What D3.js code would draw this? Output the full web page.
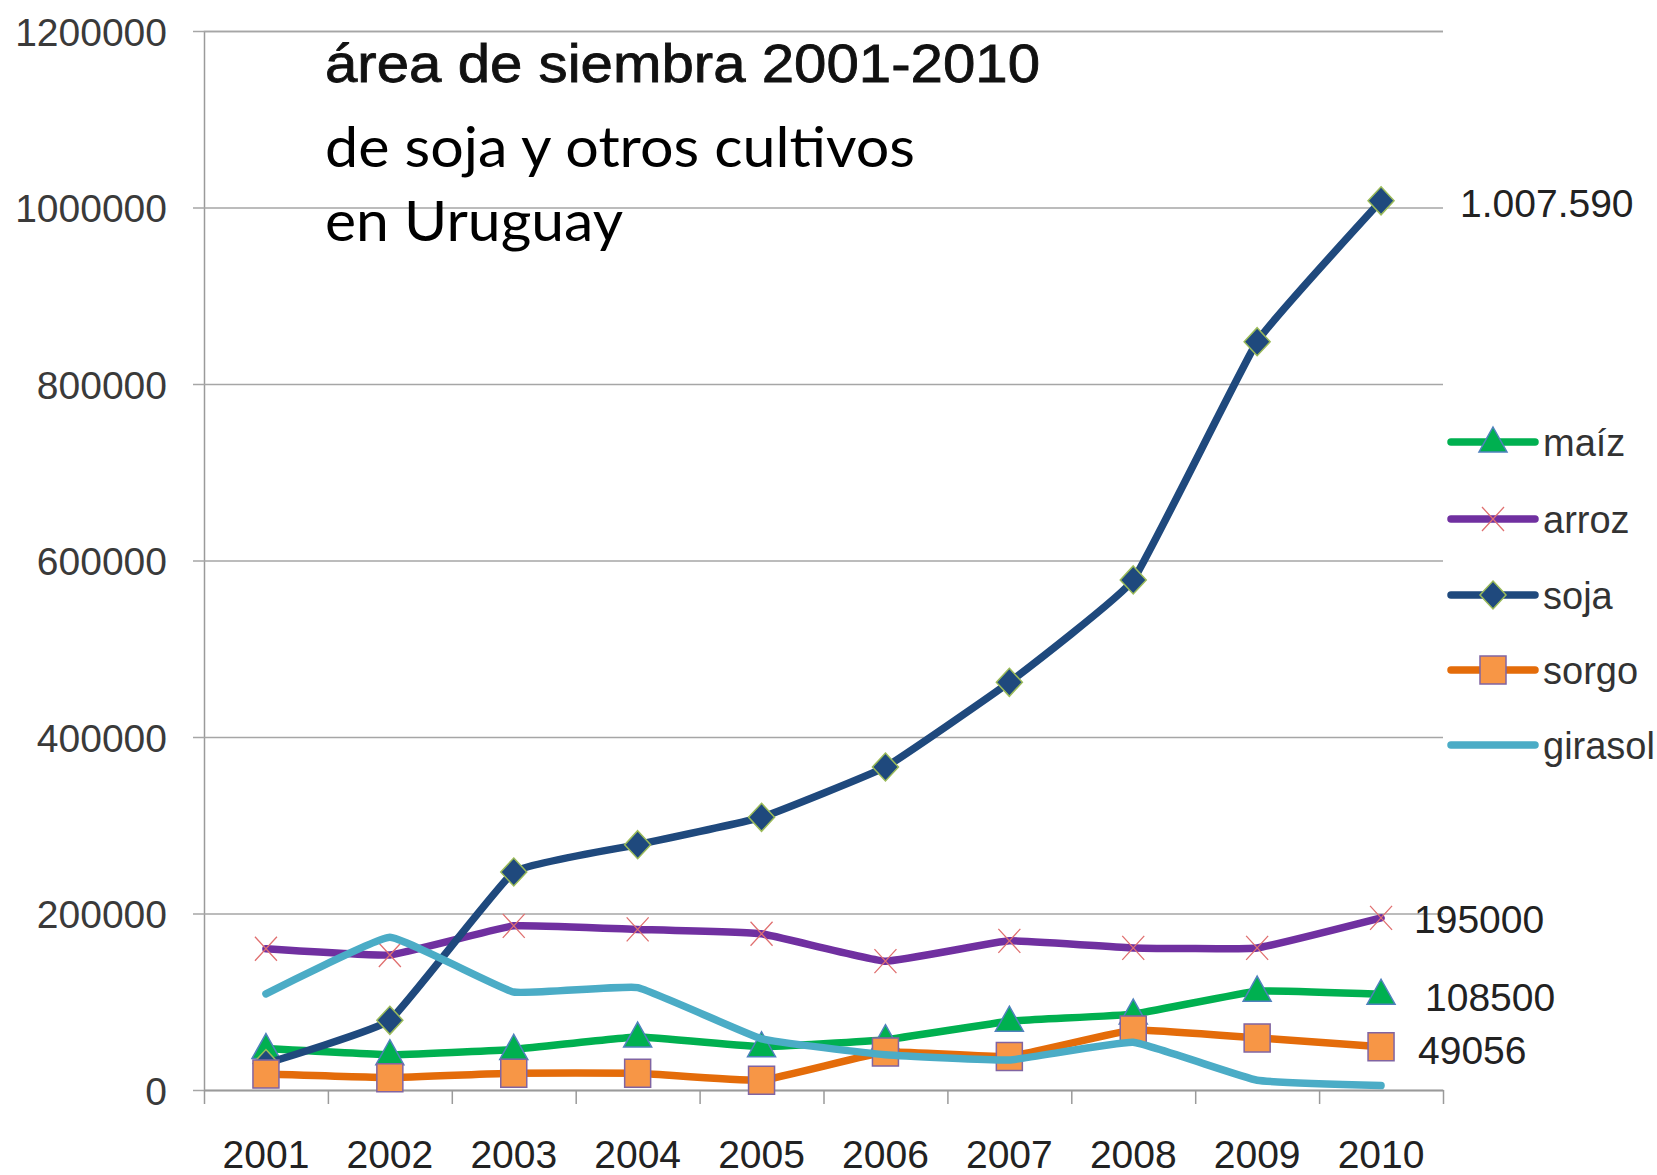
<!DOCTYPE html>
<html>
<head>
<meta charset="utf-8">
<script src="https://cdn.jsdelivr.net/npm/d3@7"></script>
<style>
  body { margin: 0; background: #fff; }
  svg { display: block; }
</style>
</head>
<body>
<div id="chart"></div>
<script>
// Data (hectares sown)
const years = ["2001", "2002", "2003", "2004", "2005", "2006", "2007", "2008", "2009", "2010"];
const maiz = [47000, 40000, 46000, 60000, 49000, 57000, 78000, 86000, 112000, 108500];
const arroz = [160000, 153000, 186000, 182000, 177000, 146000, 169000, 161000, 161000, 195000];
const soja = [30000, 79000, 247000, 278000, 309000, 366000, 462000, 578000, 848000, 1007590];
const sorgo = [18000, 14000, 19000, 19000, 11000, 43000, 38000, 68000, 59000, 49056];
const girasol = [109000, 173000, 111000, 116000, 58000, 40000, 34000, 54000, 11000, 5000];
const yTicks = [0, 200000, 400000, 600000, 800000, 1000000, 1200000];
const endLabels = [
  { serie: "soja", text: "1.007.590", dx: 79, dy: 2 },
  { serie: "arroz", text: "195000", dx: 33, dy: 1 },
  { serie: "maiz", text: "108500", dx: 44, dy: 3 },
  { serie: "sorgo", text: "49056", dx: 37, dy: 3 }
];

const series = [
  { key: "maiz", name: "maíz", values: maiz, color: "#00b050", marker: "triangle", fill: "#00b050", stroke: "#4f81bd" },
  { key: "arroz", name: "arroz", values: arroz, color: "#7030a0", marker: "x", fill: "none", stroke: "#e07070" },
  { key: "soja", name: "soja", values: soja, color: "#1f497d", marker: "diamond", fill: "#1f497d", stroke: "#9bbb59" },
  { key: "sorgo", name: "sorgo", values: sorgo, color: "#e46c0a", marker: "square", fill: "#f79646", stroke: "#8064a2" },
  { key: "girasol", name: "girasol", values: girasol, color: "#4bacc6", marker: null }
];

const width = 1657, height = 1175;
const plotLeft = 204, plotRight = 1443, plotTop = 31, plotBottom = 1090;
const labelFont = "'Liberation Sans', Arial, sans-serif";

const svg = d3.select("#chart").append("svg")
  .attr("width", width)
  .attr("height", height);

svg.append("rect").attr("width", width).attr("height", height).attr("fill", "#fff");

const x = d3.scaleBand().domain(years).range([plotLeft, plotRight]);
const xEdges = d3.scaleLinear().domain([0, years.length]).range([plotLeft, plotRight]);
const y = d3.scaleLinear().domain([0, 1200000]).range([plotBottom, plotTop]);
const cx = d => x(d) + x.bandwidth() / 2;

// horizontal gridlines + y labels
const yAxis = svg.append("g")
  .attr("transform", `translate(${plotLeft},0)`)
  .call(d3.axisLeft(y).tickValues(yTicks).tickSize(-(plotRight - plotLeft)).tickFormat(d3.format("d")));
yAxis.select(".domain").attr("stroke", "#9a9a9a").attr("stroke-width", 1.5);
yAxis.selectAll(".tick line").attr("x1", -11).attr("stroke", "#a6a6a6").attr("stroke-width", 1.5);
yAxis.selectAll(".tick text")
  .attr("x", -37)
  .attr("dy", "0.36em")
  .style("font-family", labelFont)
  .style("font-size", "39px")
  .attr("fill", "#3a3a3a");

// x axis: ticks at category edges, labels at centres
const xTicks = svg.append("g")
  .attr("transform", `translate(0,${plotBottom})`)
  .call(d3.axisBottom(xEdges).tickValues(d3.range(years.length + 1)).tickSize(14).tickFormat(""));
xTicks.select(".domain").remove();
xTicks.selectAll(".tick line").attr("stroke", "#9a9a9a").attr("stroke-width", 1.5);

const xAxis = svg.append("g")
  .attr("transform", `translate(0,${plotBottom})`)
  .call(d3.axisBottom(x).tickSize(0).tickPadding(0));
xAxis.select(".domain").attr("stroke", "#9a9a9a").attr("stroke-width", 1.5);
xAxis.selectAll(".tick text")
  .attr("y", 78)
  .attr("dy", 0)
  .style("font-family", labelFont)
  .style("font-size", "39px")
  .attr("fill", "#222");

// marker shapes
function markerPath(type) {
  if (type === "triangle") return "M0,-15L14,10L-14,10Z";
  if (type === "diamond") return "M0,-14L13,0L0,14L-13,0Z";
  if (type === "square") return "M-13,-14H13V14H-13Z";
  if (type === "x") return "M-11,-12L11,12M-11,12L11,-12";
  return "";
}

const line = d3.line()
  .x((d, i) => cx(years[i]))
  .y(d => y(d))
  .curve(d3.curveCardinal.tension(0.7));

series.forEach(s => {
  const g = svg.append("g").attr("class", "serie " + s.key);
  g.append("path")
    .datum(s.values)
    .attr("fill", "none")
    .attr("stroke", s.color)
    .attr("stroke-width", 7.5)
    .attr("stroke-linejoin", "round")
    .attr("stroke-linecap", "round")
    .attr("d", line);
  if (s.marker) {
    g.selectAll("path.mk")
      .data(s.values)
      .join("path")
      .attr("class", "mk")
      .attr("transform", (d, i) => `translate(${cx(years[i])},${y(d)})`)
      .attr("d", markerPath(s.marker))
      .attr("fill", s.fill)
      .attr("stroke", s.stroke)
      .attr("stroke-width", s.marker === "x" ? 1.3 : 1.5);
  }
});

// end-of-line value labels
endLabels.forEach(l => {
  const s = series.find(d => d.key === l.serie);
  const v = s.values[s.values.length - 1];
  svg.append("text")
    .attr("x", cx(years[years.length - 1]) + l.dx)
    .attr("y", y(v) + l.dy)
    .attr("dy", "0.36em")
    .style("font-family", labelFont)
    .style("font-size", "39px")
    .attr("fill", "#222")
    .text(l.text);
});

// legend
const legend = svg.append("g").attr("transform", "translate(1451,0)");
const legendY = [442, 519, 595, 670, 745];
series.forEach((s, i) => {
  const g = legend.append("g").attr("transform", `translate(0,${legendY[i]})`);
  g.append("line")
    .attr("x1", 0).attr("x2", 84)
    .attr("stroke", s.color)
    .attr("stroke-width", 7.5)
    .attr("stroke-linecap", "round");
  if (s.marker) {
    g.append("path")
      .attr("transform", "translate(42,0)")
      .attr("d", markerPath(s.marker))
      .attr("fill", s.fill)
      .attr("stroke", s.stroke)
      .attr("stroke-width", s.marker === "x" ? 1.3 : 1.5);
  }
  g.append("text")
    .attr("x", 92)
    .attr("dy", "0.36em")
    .style("font-family", labelFont)
    .style("font-size", "38px")
    .attr("fill", "#333")
    .text(s.name);
});

// title block
svg.append("text")
  .attr("x", 325).attr("y", 82)
  .attr("textLength", 715).attr("lengthAdjust", "spacingAndGlyphs")
  .style("font-family", labelFont)
  .style("font-size", "53px")
  .attr("fill", "#111")
  .attr("stroke", "#111")
  .attr("stroke-width", 0.8)
  .text("área de siembra 2001-2010");
svg.append("text")
  .attr("x", 325).attr("y", 167)
  .attr("textLength", 590).attr("lengthAdjust", "spacingAndGlyphs")
  .style("font-family", "Lato, 'Open Sans', sans-serif")
  .style("font-size", "56px")
  .attr("fill", "#000")
  .text("de soja y otros cultivos");
svg.append("text")
  .attr("x", 325).attr("y", 241)
  .attr("textLength", 298).attr("lengthAdjust", "spacingAndGlyphs")
  .style("font-family", "Lato, 'Open Sans', sans-serif")
  .style("font-size", "56px")
  .attr("fill", "#000")
  .text("en Uruguay");
</script>
</body>
</html>
